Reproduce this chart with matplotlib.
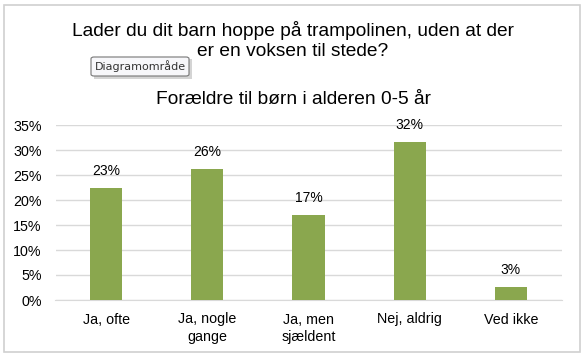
import matplotlib.pyplot as plt
from matplotlib.patches import Rectangle, FancyBboxPatch

plt.rcParams['font.family'] = ['Liberation Sans', 'DejaVu Sans']

categories = ['Ja, ofte', 'Ja, nogle\ngange', 'Ja, men\nsjældent', 'Nej, aldrig', 'Ved ikke']
values = [22.5, 26.3, 17.0, 31.6, 2.6]
labels = ['23%', '26%', '17%', '32%', '3%']
yticks = [0, 5, 10, 15, 20, 25, 30, 35]

W, H = 584, 357
fig = plt.figure(figsize=(W / 100, H / 100), dpi=100)

# outer chart border
fig.patches.append(Rectangle((4 / W, 1 - 352 / H), 576 / W, 347 / H,
                             transform=fig.transFigure, fill=False,
                             edgecolor='#d0d0d0', linewidth=1.2))

ax = fig.add_axes([55.5 / W, 1 - 300 / H, 506 / W, 175 / H])
x = range(len(categories))
ax.bar(x, values, width=0.32, color='#8aa74e', zorder=3)
for i, v in enumerate(values):
    ax.text(i, v + 2.0, labels[i], ha='center', va='bottom', fontsize=10, zorder=4)

ax.set_xlim(-0.5, len(categories) - 0.5)
ax.set_ylim(0, 35)
ax.set_yticks(yticks)
ax.set_yticklabels([f'{t}%' for t in yticks], fontsize=10.3)
ax.set_xticks(list(x))
ax.set_xticklabels(categories, fontsize=10.3, linespacing=1.35)
ax.tick_params(axis='y', length=0, pad=10)
ax.tick_params(axis='x', length=0, pad=9)
ax.grid(axis='y', color='#d9d9d9', linewidth=1, zorder=0)
for s in ['top', 'right', 'left']:
    ax.spines[s].set_visible(False)
ax.spines['bottom'].set_color('#d9d9d9')

fig.text(293 / W, 1 - 31 / H, 'Lader du dit barn hoppe på trampolinen, uden at der',
         ha='center', va='center', fontsize=13.8)
fig.text(293 / W, 1 - 51 / H, 'er en voksen til stede?',
         ha='center', va='center', fontsize=13.8)
fig.text(294 / W, 1 - 99 / H, 'Forældre til børn i alderen 0-5 år',
         ha='center', va='center', fontsize=13.8)

# tooltip
fig.patches.append(Rectangle((94 / W, 1 - 79 / H), 98 / W, 20 / H,
                             transform=fig.transFigure, facecolor='#b8b8b8',
                             edgecolor='none', alpha=0.6))
fig.patches.append(FancyBboxPatch((91 / W, 1 - 76 / H), 98 / W, 19 / H,
                                  boxstyle='round,pad=0,rounding_size=0.005',
                                  transform=fig.transFigure, facecolor='#f7f7fa',
                                  edgecolor='#767676', linewidth=0.8))
fig.text(140 / W, 1 - 66.5 / H, 'Diagramområde', ha='center', va='center',
         fontsize=8, family=['DejaVu Sans'], color='#333333')

fig.savefig('out.png', dpi=100)
